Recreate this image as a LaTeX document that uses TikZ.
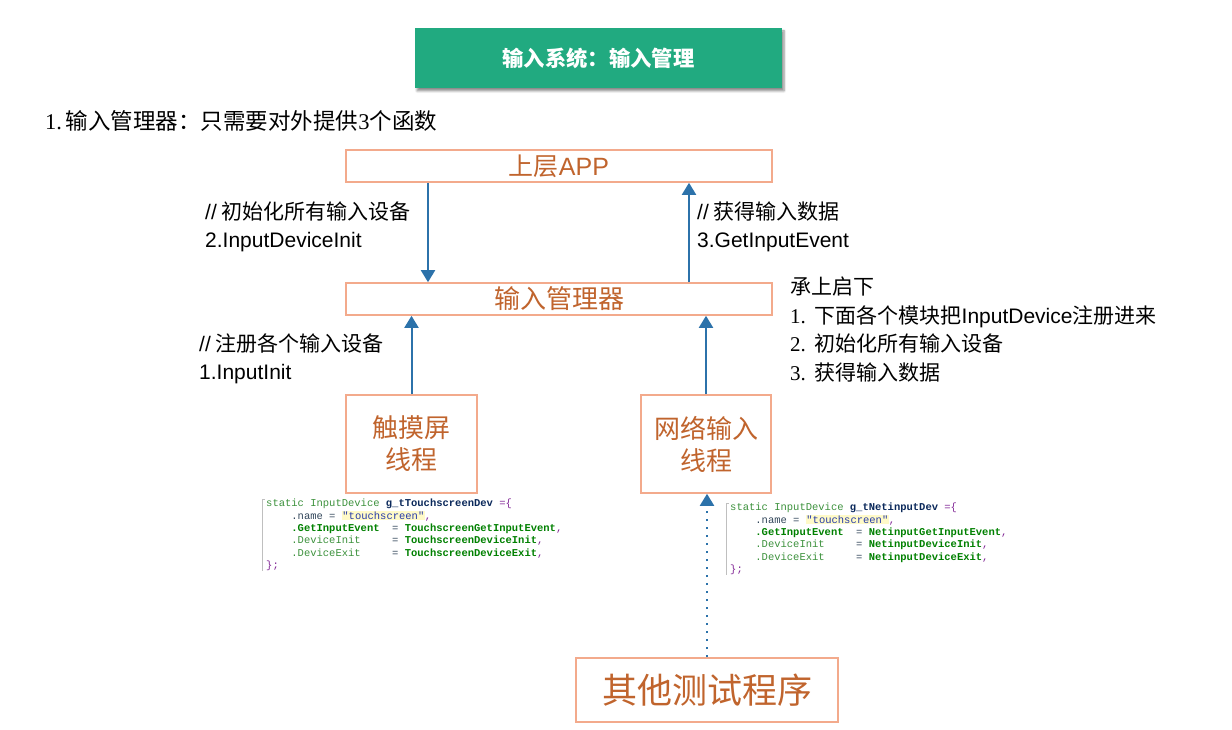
\documentclass[tikz,border=0pt]{standalone}
\usepackage{fontspec}
\setmainfont{Noto Sans CJK SC}
\newfontfamily\latin{Liberation Sans}
\newfontfamily\songnum{Liberation Serif}
\newfontfamily\codefont{Liberation Mono}
\usetikzlibrary{arrows.meta,shadows.blur}

\definecolor{titlegreen}{RGB}{33,170,128}
\definecolor{boxline}{RGB}{243,170,140}
\definecolor{boxtext}{RGB}{192,100,45}
\definecolor{flowblue}{RGB}{44,114,170}
\definecolor{kwgreen}{RGB}{60,145,60}
\definecolor{fngreen}{RGB}{0,128,0}
\definecolor{varnavy}{RGB}{10,40,90}
\definecolor{brpurple}{RGB}{130,40,150}
\definecolor{fieldgray}{RGB}{50,70,90}
\definecolor{strblue}{RGB}{40,60,170}
\definecolor{strbg}{RGB}{255,250,200}

\newcommand\codegap[1]{\hspace*{#1\dimexpr0.6em\relax}}
\newcommand\hlstr[1]{{\setlength\fboxsep{0.6pt}\colorbox{strbg}{\color{strblue}#1}}}

\begin{document}
\begin{tikzpicture}[x=1pt, y=-1pt,
    box/.style={draw=boxline, line width=1.6pt, text=boxtext, inner sep=0pt},
    flow/.style={draw=flowblue, line width=2pt, -{Triangle[length=12pt,width=14pt]}},
    note/.style={anchor=north west, align=left, inner sep=0pt, font=\fontsize{21}{28}\selectfont},
    code/.style={anchor=north west, align=left, inner sep=0pt, font=\codefont\fontsize{10.5}{12.3}\selectfont},
    codeedge/.style={draw=black!25, line width=0.6pt}]
    \useasboundingbox (0,0) rectangle (1232,730);

    % title bar
    \node[fill=titlegreen, minimum width=367pt, minimum height=60pt, text=white,
          font=\bfseries\fontsize{21.3}{24}\selectfont,
          blur shadow={shadow xshift=2pt, shadow yshift=-3pt, shadow blur steps=6, shadow opacity=45}]
          (title) at (598.5,58) {输入系统：输入管理};
    \node[anchor=west, inner sep=0pt, font=\fontsize{22.5}{24}\selectfont] (heading) at (45,121)
          {{\songnum 1.\,}输入管理器：只需要对外提供{\songnum 3}个函数};

    % layers
    \node[box, minimum width=426pt, minimum height=32pt, font=\fontsize{25}{28}\selectfont] (app) at (559,166) {上层{\latin APP}};
    \node[box, minimum width=426pt, minimum height=32pt, font=\fontsize{26}{28}\selectfont] (mgr) at (559,299) {输入管理器};
    \node[box, minimum width=131pt, minimum height=98pt, align=center, font=\fontsize{26}{32}\selectfont] (touch) at (411.5,444) {触摸屏\\线程};
    \node[box, minimum width=130pt, minimum height=98pt, align=center, font=\fontsize{26}{32}\selectfont] (net) at (706,444) {网络输入\\线程};
    \node[box, minimum width=262pt, minimum height=64pt, font=\fontsize{35}{40}\selectfont] (other) at (707,690) {其他测试程序};

    % calls between layers
    \draw[flow] ([xshift=-131pt]app.south) -- ([xshift=-131pt]mgr.north);
    \draw[flow] ([xshift=130pt]mgr.north) -- ([xshift=130pt]app.south);
    \draw[flow] (touch.north) -- (touch.north |- mgr.south);
    \draw[flow] (net.north) -- (net.north |- mgr.south);
    \draw[flow, dash pattern=on 2pt off 6pt] (other.north) -- (other.north |- net.south);

    % comments
    \node[note] (initnote) at (205,202) {{\latin //} 初始化所有输入设备\\{\latin 2.InputDeviceInit}};
    \node[note] (getnote) at (697,202) {{\latin //} 获得输入数据\\{\latin 3.GetInputEvent}};
    \node[note] (regnote) at (199,333) {{\latin //} 注册各个输入设备\\{\latin 1.InputInit}};
    \node[anchor=north west, align=left, inner sep=0pt, font=\fontsize{21}{28.5}\selectfont] (rolenote) at (790,277)
          {承上启下\\
           {\songnum 1.\ \,}下面各个模块把{\latin InputDevice}注册进来\\
           {\songnum 2.\ \,}初始化所有输入设备\\
           {\songnum 3.\ \,}获得输入数据};

    % device structs
    \node[code] (tcode) at (266,499) {%
        {\color{kwgreen}static InputDevice} {\color{varnavy}\bfseries g\_tTouchscreenDev} {\color{brpurple}=\{}\\
        \codegap{4}{\color{fieldgray}.name = }\hlstr{"touchscreen"}{\color{brpurple},}\\
        \codegap{4}{\color{fngreen}\bfseries .GetInputEvent}\codegap{2}{\color{fieldgray}=} {\color{fngreen}\bfseries TouchscreenGetInputEvent}{\color{brpurple},}\\
        \codegap{4}{\color{kwgreen}.DeviceInit}\codegap{5}{\color{fieldgray}=} {\color{fngreen}\bfseries TouchscreenDeviceInit}{\color{brpurple},}\\
        \codegap{4}{\color{kwgreen}.DeviceExit}\codegap{5}{\color{fieldgray}=} {\color{fngreen}\bfseries TouchscreenDeviceExit}{\color{brpurple},}\\
        {\color{brpurple}\};}};
    \node[code] (ncode) at (730,503) {%
        {\color{kwgreen}static InputDevice} {\color{varnavy}\bfseries g\_tNetinputDev} {\color{brpurple}=\{}\\
        \codegap{4}{\color{fieldgray}.name = }\hlstr{"touchscreen"}{\color{brpurple},}\\
        \codegap{4}{\color{fngreen}\bfseries .GetInputEvent}\codegap{2}{\color{fieldgray}=} {\color{fngreen}\bfseries NetinputGetInputEvent}{\color{brpurple},}\\
        \codegap{4}{\color{kwgreen}.DeviceInit}\codegap{5}{\color{fieldgray}=} {\color{fngreen}\bfseries NetinputDeviceInit}{\color{brpurple},}\\
        \codegap{4}{\color{kwgreen}.DeviceExit}\codegap{5}{\color{fieldgray}=} {\color{fngreen}\bfseries NetinputDeviceExit}{\color{brpurple},}\\
        {\color{brpurple}\};}};
    \draw[codeedge] ([xshift=-1pt]tcode.north west) -| ([xshift=-4pt]tcode.south west);
    \draw[codeedge] ([xshift=-1pt]ncode.north west) -| ([xshift=-4pt]ncode.south west);
\end{tikzpicture}
\end{document}
